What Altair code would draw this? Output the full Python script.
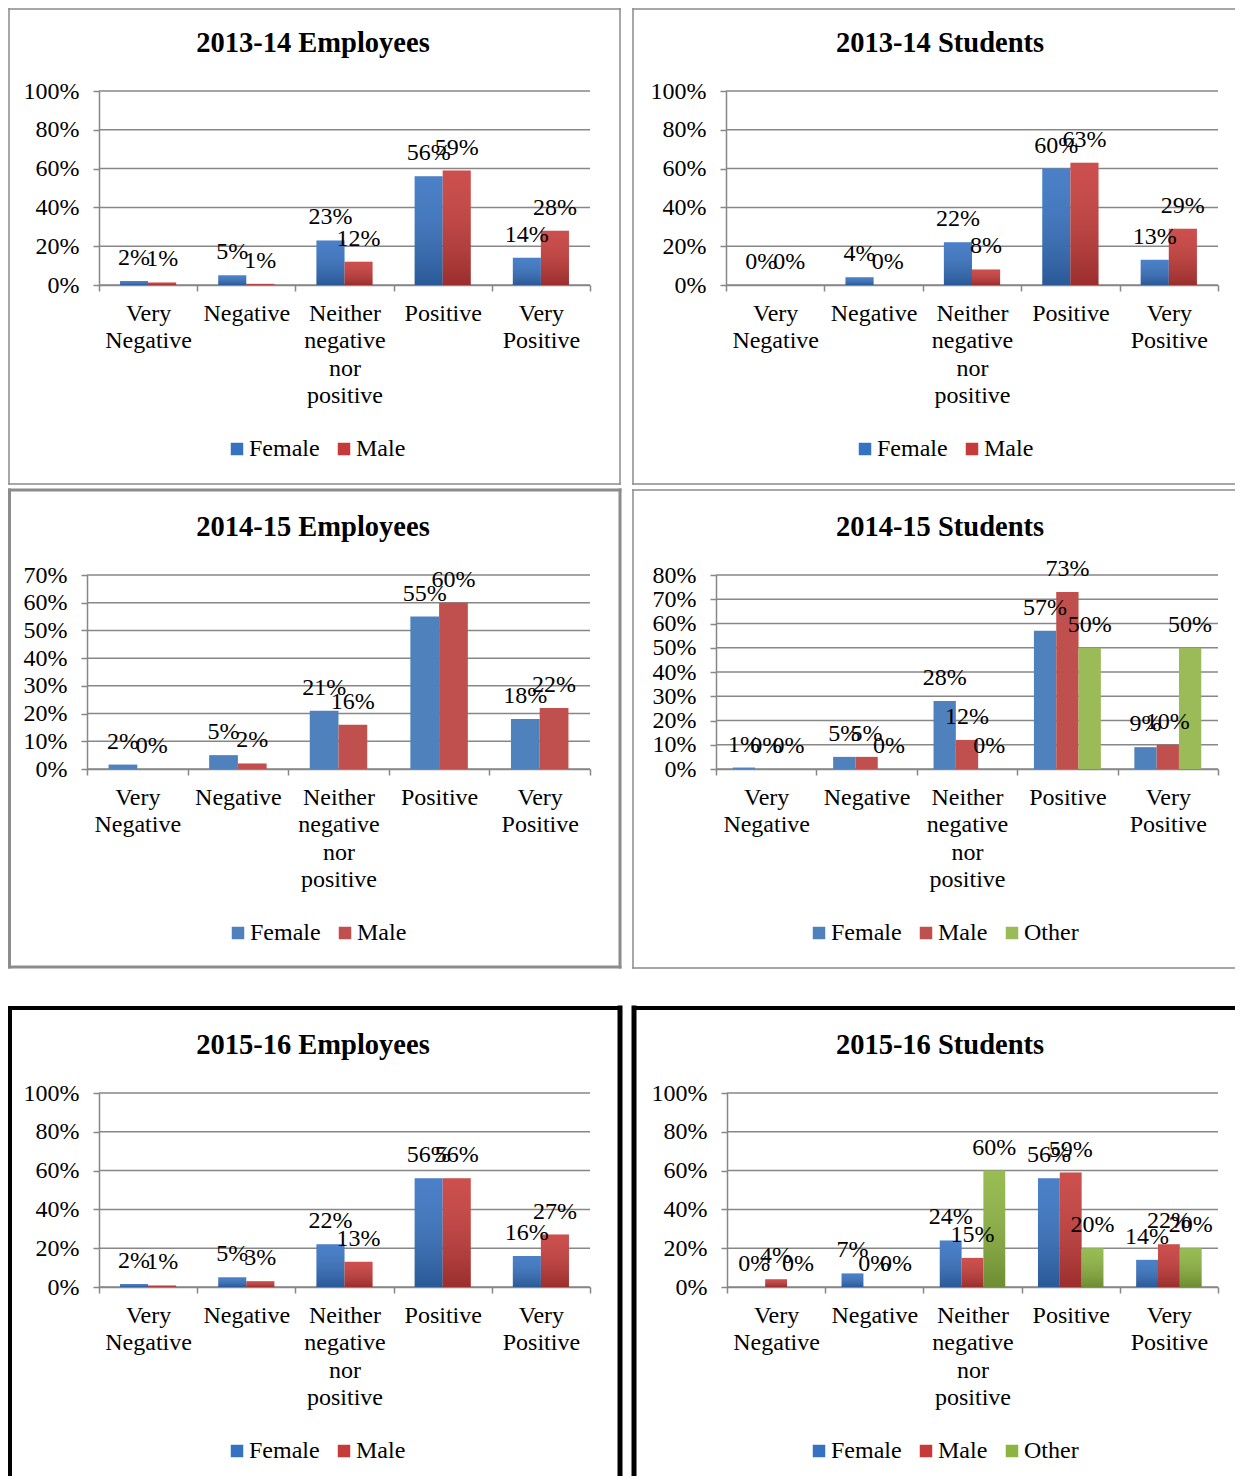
import altair as alt
import pandas as pd

FONT = "Liberation Serif"
GRAY = "#878787"

categories = ["Very Negative", "Negative", "Neither negative nor positive",
              "Positive", "Very Positive"]
series2 = ["Female", "Male"]
series3 = ["Female", "Male", "Other"]

# 2013-14 Employees
emp1314_female = [0.02, 0.05, 0.23, 0.56, 0.14]
emp1314_male = [0.013, 0.006, 0.12, 0.59, 0.28]
# 2013-14 Students
stu1314_female = [0.0, 0.04, 0.22, 0.60, 0.13]
stu1314_male = [0.0, 0.0, 0.08, 0.63, 0.29]
# 2014-15 Employees
emp1415_female = [0.016, 0.05, 0.21, 0.55, 0.18]
emp1415_male = [0.0, 0.02, 0.16, 0.60, 0.22]
# 2014-15 Students
stu1415_female = [0.006, 0.05, 0.28, 0.57, 0.09]
stu1415_male = [0.0, 0.05, 0.12, 0.73, 0.10]
stu1415_other = [0.0, 0.0, 0.0, 0.50, 0.50]
# 2015-16 Employees
emp1516_female = [0.015, 0.05, 0.22, 0.56, 0.16]
emp1516_male = [0.008, 0.03, 0.13, 0.56, 0.27]
# 2015-16 Students
stu1516_female = [0.0, 0.07, 0.24, 0.56, 0.14]
stu1516_male = [0.04, 0.0, 0.15, 0.59, 0.22]
stu1516_other = [0.0, 0.0, 0.60, 0.20, 0.20]

ticks_100 = [0.0, 0.2, 0.4, 0.6, 0.8, 1.0]
ticks_70 = [0.0, 0.1, 0.2, 0.3, 0.4, 0.5, 0.6, 0.7]
ticks_80 = [0.0, 0.1, 0.2, 0.3, 0.4, 0.5, 0.6, 0.7, 0.8]

colors_gradient = ["#3672c2", "#c63b39", "#8db440"]
colors_flat = ["#4f81bd", "#c0504d", "#9bbb59"]

WIDTH, HEIGHT = 1227, 1468
ONE = pd.DataFrame({"k": [0]})


def rule(x, y, x2=None, y2=None, color=GRAY, width=1.5):
    enc = {"x": alt.value(x), "y": alt.value(y)}
    if x2 is not None:
        enc["x2"] = alt.value(x2)
    if y2 is not None:
        enc["y2"] = alt.value(y2)
    return alt.Chart(ONE).mark_rule(color=color, strokeWidth=width,
                                    strokeCap="square").encode(**enc)


def panel(title, series, values, colors, yticks, ymax, plot,
          title_pos, legend_pos, borders, gradient):
    x0, x1, ybot, ytop = plot
    rows = []
    for s, vals in zip(series, values):
        for c, v in zip(categories, vals):
            rows.append({"category": c, "series": s, "value": v})
    df = pd.DataFrame(rows)

    yscale = alt.Scale(domain=[0, ymax], range=[ybot, ytop], nice=False, zero=True)
    yaxis = alt.Axis(title=None, orient="left", values=yticks, format=".0%",
                     labelFont=FONT, labelFontSize=24, labelColor="black",
                     labelPadding=14, labelOverlap=False, tickSize=6,
                     tickColor=GRAY, tickWidth=1.5, domainColor=GRAY,
                     domainWidth=1.5, grid=False, offset=-x0)

    grid = alt.Chart(pd.DataFrame({"value": yticks})).mark_rule(
        color=GRAY, strokeWidth=1.5).encode(
        y=alt.Y("value:Q", scale=yscale, axis=yaxis),
        x=alt.value(x0), x2=alt.value(x1))

    base = alt.Chart(df).encode(
        x=alt.X("category:N", sort=categories,
                scale=alt.Scale(range=[x0, x1], paddingInner=0, paddingOuter=0),
                axis=alt.Axis(title=None, orient="bottom", labelAngle=0,
                              labelExpr="split(datum.label, ' ')",
                              labelFont=FONT, labelFontSize=24,
                              labelColor="black", labelLineHeight=27.5,
                              labelPadding=10, labelOverlap=False,
                              tickSize=6, tickBand="extent", tickColor=GRAY,
                              tickWidth=1.5, domainColor=GRAY, domainWidth=1.5,
                              grid=False, offset=ybot - HEIGHT)),
        xOffset=alt.XOffset("series:N", sort=series,
                            scale=alt.Scale(paddingInner=0, paddingOuter=0.75)),
        y=alt.Y("value:Q", scale=yscale, axis=yaxis),
    )

    bars = base.mark_bar(strokeWidth=0).encode(
        color=alt.Color("series:N", sort=series,
                        scale=alt.Scale(domain=series, range=colors[:len(series)]),
                        legend=alt.Legend(title=None, orient="none",
                                          legendX=legend_pos[0] - 6,
                                          legendY=legend_pos[1],
                                          direction="horizontal",
                                          symbolType="square", symbolSize=156,
                                          symbolStrokeWidth=0,
                                          labelFont=FONT, labelFontSize=24,
                                          labelColor="black", labelOffset=0,
                                          columnPadding=12, padding=0))
    )
    layers = [grid, bars]
    if gradient:
        shade = alt.Gradient(
            gradient="linear",
            stops=[alt.GradientStop(color="rgba(255,255,255,0.10)", offset=0),
                   alt.GradientStop(color="rgba(0,0,0,0.22)", offset=1)],
            x1=0, x2=0, y1=0, y2=1)
        layers.append(base.mark_bar(color=shade, strokeWidth=0))

    labels = base.mark_text(font=FONT, fontSize=24, baseline="alphabetic",
                            align="center", dy=-16, color="black").encode(
        text=alt.Text("value:Q", format=".0%"))
    layers.append(labels)

    title_layer = alt.Chart(pd.DataFrame({"t": [title]})).mark_text(
        font=FONT, fontSize=28.5, fontWeight="bold", align="center",
        baseline="alphabetic", color="black").encode(
        text="t:N", x=alt.value(title_pos[0]), y=alt.value(title_pos[1]))
    layers.append(title_layer)

    return alt.layer(*borders, *layers)


g1 = "#8a8a8a"
g3 = "#8c8c8c"

p1 = panel("2013-14 Employees", series2, [emp1314_female, emp1314_male],
           colors_gradient, ticks_100, 1.0, (91, 582, 277, 83),
           (305, 44), (223, 429),
           [rule(1, 1, x2=612, color=g1), rule(1, 476, x2=612, color=g1),
            rule(1, 1, y2=476, color=g1), rule(612, 1, y2=476, color=g1)],
           True)
p2 = panel("2013-14 Students", series2, [stu1314_female, stu1314_male],
           colors_gradient, ticks_100, 1.0, (718, 1210, 277, 83),
           (932, 44), (851, 429),
           [rule(625, 1, x2=WIDTH, color=g1), rule(625, 476, x2=WIDTH, color=g1),
            rule(625, 1, y2=476, color=g1)],
           True)
p3 = panel("2014-15 Employees", series2, [emp1415_female, emp1415_male],
           colors_flat, ticks_70, 0.7, (79, 582, 761, 567),
           (305, 528), (224, 913),
           [rule(1.5, 482, x2=612, color=g3, width=3),
            rule(1.5, 959, x2=612, color=g3, width=3),
            rule(1.5, 482, y2=959, color=g3, width=3),
            rule(612, 482, y2=959, color=g3, width=3)],
           False)
p4 = panel("2014-15 Students", series3, [stu1415_female, stu1415_male, stu1415_other],
           colors_flat, ticks_80, 0.8, (708, 1210, 761, 567),
           (932, 528), (805, 913),
           [rule(625, 482, x2=WIDTH, color=g1), rule(625, 960, x2=WIDTH, color=g1),
            rule(625, 482, y2=960, color=g1)],
           False)
p5 = panel("2015-16 Employees", series2, [emp1516_female, emp1516_male],
           colors_gradient, ticks_100, 1.0, (91, 582, 1279, 1085),
           (305, 1046), (223, 1431),
           [rule(2, 1000, x2=612, color="black", width=4),
            rule(2, 1000, y2=HEIGHT, color="black", width=4),
            rule(612, 1000, y2=HEIGHT, color="black", width=5)],
           True)
p6 = panel("2015-16 Students", series3, [stu1516_female, stu1516_male, stu1516_other],
           colors_gradient, ticks_100, 1.0, (719, 1210, 1279, 1085),
           (932, 1046), (805, 1431),
           [rule(626, 1000, x2=WIDTH, color="black", width=4),
            rule(626, 1000, y2=HEIGHT, color="black", width=5)],
           True)

chart = alt.layer(p1, p2, p3, p4, p5, p6).resolve_scale(
    x="independent", y="independent", color="independent",
    xOffset="independent").resolve_axis(
    x="independent", y="independent").resolve_legend(
    color="independent").properties(
    width=WIDTH, height=HEIGHT, padding=0, background="white",
    autosize=alt.AutoSizeParams(type="none")).configure_view(stroke="transparent")

chart.save("out.html", embed_options={"renderer": "svg", "actions": False})
